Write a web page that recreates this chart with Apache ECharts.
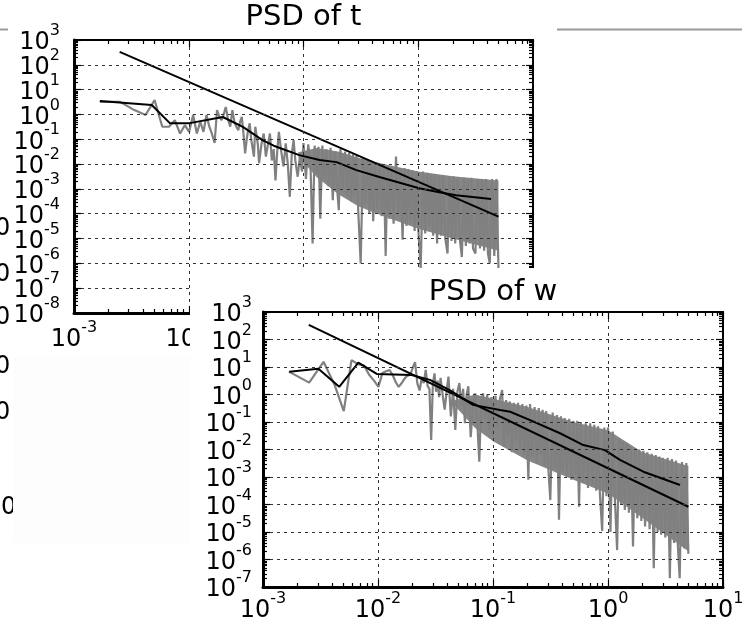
<!DOCTYPE html>
<html><head><meta charset="utf-8">
<script src="https://cdn.jsdelivr.net/npm/echarts@6/dist/echarts.min.js"></script>
<style>
html,body{margin:0;padding:0;background:#fff;overflow:hidden;}
#a{position:absolute;left:0;top:0;width:742px;height:625px;}
#b{position:absolute;left:190px;top:268px;width:552px;height:357px;background:#fff;}
</style></head><body>
<div id="a"></div><div id="b"></div>
<script>
// ---- data ----
const titleT = 'PSD of t';
const titleW = 'PSD of w';

// frequencies shared by both raw spectra
const freq = [
  0.00168, 0.00252, 0.00336, 0.0042, 0.00504, 0.00588, 0.00672, 0.00756, 0.0084, 0.00924,
  0.01008, 0.01092, 0.01176, 0.0126, 0.01344, 0.01428, 0.01512, 0.01596, 0.0168, 0.01764,
  0.01848, 0.01932, 0.02016,
  0.021, 0.022, 0.023, 0.024, 0.025, 0.026, 0.027, 0.028, 0.029, 0.030,
  0.031, 0.032, 0.033, 0.034, 0.035, 0.037, 0.038, 0.040, 0.041, 0.043,
  0.045, 0.047, 0.049, 0.051, 0.053, 0.055, 0.057, 0.059, 0.061, 0.064,
  0.067, 0.070, 0.073, 0.076, 0.079, 0.082, 0.085, 0.089, 0.093, 0.097,
  0.10, 0.105, 0.11, 0.115, 0.12, 0.125, 0.13, 0.135, 0.14, 0.146,
  0.152, 0.158, 0.165, 0.172, 0.18, 0.187, 0.195, 0.203, 0.21, 0.22,
  0.23, 0.24, 0.25, 0.26, 0.27, 0.28, 0.29, 0.30, 0.315, 0.33,
  0.345, 0.36, 0.375, 0.39, 0.405, 0.42, 0.44, 0.46, 0.48, 0.50,
  0.52, 0.54, 0.56, 0.58, 0.61, 0.64, 0.67, 0.70, 0.73, 0.76,
  0.79, 0.82, 0.85, 0.89, 0.93, 0.97, 1.0, 1.05, 1.1, 1.15,
  1.2, 1.25, 1.3, 1.35, 1.4, 1.46, 1.52, 1.58, 1.65, 1.72,
  1.8, 1.87, 1.95, 2.03, 2.1, 2.2, 2.3, 2.4, 2.5, 2.6,
  2.7, 2.8, 2.9, 3.0, 3.15, 3.3, 3.45, 3.6, 3.75, 3.9,
  4.05, 4.2, 4.4, 4.6, 4.8, 5.0
];

// raw PSD of t (grey)
const psdT = [
  3.2, 3.2, 1.5, 0.95, 3.8, 0.32, 0.32, 0.59, 0.17, 0.37,
  0.2, 0.95, 0.17, 0.51, 0.2, 0.95, 0.32, 0.16, 0.072, 1.5,
  0.8, 0.59, 1.0,
  2.0, 0.63, 0.32, 1.5, 0.5, 0.32, 0.23, 0.5, 0.8, 0.16,
  0.027, 0.1, 0.25, 0.44, 0.1, 0.02, 0.32, 0.063, 0.011, 0.063,
  0.17, 0.02, 0.063, 0.17, 0.014, 0.04, 0.0022, 0.032, 0.2, 0.032,
  0.008, 0.068, 0.01, 4.8e-4, 0.025, 0.093, 0.013, 0.0031, 0.02, 0.005,
  0.07, 0.0025, 0.063, 0.01, 6.3e-6, 0.056, 0.004, 0.05, 6.3e-5, 0.056,
  0.0025, 0.04, 0.0013, 0.045, 3.5e-4, 0.032, 0.0016, 1.4e-4, 0.04, 0.001,
  0.032, 5e-4, 0.028, 3.2e-4, 0.025, 6.3e-4, 0.022, 1.3e-4, 1e-6, 0.018,
  2.5e-4, 0.016, 1e-4, 0.014, 5e-5, 0.011, 1.6e-4, 0.011, 8e-5, 0.01,
  2e-6, 0.009, 6.3e-5, 0.008, 4e-5, 0.02, 1e-4, 0.007, 9e-6, 0.007,
  3.2e-5, 0.0063, 5e-5, 0.0056, 2e-5, 0.005, 2.5e-5, 6.3e-7, 0.005, 1.6e-5,
  0.0045, 3.2e-5, 0.004, 1.3e-5, 0.004, 6.3e-6, 0.0035, 1.3e-5, 0.0035, 1e-5,
  2.5e-6, 0.0032, 8e-6, 0.0032, 6.3e-6, 0.0028, 1e-5, 1.8e-6, 0.0028, 5e-6,
  0.0025, 6.3e-6, 0.0028, 4e-6, 2.5e-6, 0.0025, 4e-6, 0.0025, 3.2e-6, 0.0025,
  2.5e-6, 1e-6, 0.0025, 2e-6, 0.0025, 6.3e-7
];

// raw PSD of w (grey)
const psdW = [
  6.8, 2.7, 15.5, 2.2, 0.25, 17.8, 12.6, 11.2, 5.1, 3.2,
  1.9, 6, 7, 7.8, 5, 2.8, 1.9, 2.5, 3.5, 4.5,
  5, 6, 10,
  15, 2.5, 1.4, 4, 2.6, 7.8, 2, 1.6, 0.022, 2.5,
  5.9, 1.26, 3.2, 0.8, 4, 0.63, 0.28, 2, 4.5, 0.16,
  1.6, 0.051, 1.26, 2.6, 0.4, 1.6, 0.09, 1, 2, 0.028,
  0.4, 1.1, 0.1, 0.0036, 0.63, 1.1, 0.13, 1, 0.05, 0.8,
  0.032, 0.9, 0.063, 0.7, 1.45, 0.0126, 0.63, 0.025, 0.56, 0.008,
  0.5, 0.02, 0.5, 0.01, 0.45, 0.0063, 0.4, 8e-4, 0.45, 0.005,
  0.35, 0.0032, 0.32, 0.0063, 0.28, 0.0025, 0.25, 0.004, 1.45e-4, 0.22,
  0.002, 0.18, 2.8e-5, 0.16, 0.0016, 0.14, 0.001, 0.13, 8e-4, 0.11,
  0.00126, 0.11, 8.3e-5, 0.1, 6.3e-4, 0.09, 4e-4, 0.09, 5e-4, 0.08,
  3.2e-4, 0.07, 2.5e-4, 1.1e-5, 0.063, 2e-4, 0.063, 1e-5, 0.045, 1.26e-4,
  2.2e-6, 0.025, 1e-4, 0.02, 6.3e-5, 0.016, 5e-5, 0.0126, 3e-6, 0.011,
  3.2e-5, 0.01, 2.5e-5, 0.009, 1.6e-5, 0.008, 1.26e-5, 0.007, 4.8e-7, 0.0063,
  1e-5, 0.0056, 8e-6, 0.005, 6.3e-6, 0.005, 2.1e-7, 0.0045, 4e-6, 0.004,
  3.2e-6, 2.1e-7, 0.0035, 2.5e-6, 0.0032, 1.6e-6
];

// dense core of the raw spectra at high frequency (upper / lower edge of the solid grey band)
const bandFreqT = [0.09, 0.13, 0.2, 0.3, 0.5, 1.0, 2.0, 5.0];
const bandUpT   = [0.03, 0.045, 0.032, 0.018, 0.01, 0.005, 0.0032, 0.0022];
const bandLoT   = [0.02, 0.003, 6.3e-4, 2e-4, 8e-5, 2.5e-5, 1e-5, 3.2e-6];
const bandFreqW = [0.045, 0.07, 0.1, 0.2, 0.5, 1.0, 2.0, 5.0];
const bandUpW   = [0.6, 1.0, 0.7, 0.35, 0.1, 0.05, 0.008, 0.0025];
const bandLoW   = [0.45, 0.06, 0.02, 0.004, 8e-4, 2.5e-4, 3.2e-5, 2e-6];

// smoothed (binned) spectra, black
const smoothFreqT = [0.00168, 0.00476, 0.00684, 0.0102, 0.0198, 0.0296, 0.0439, 0.055, 0.092, 0.138, 0.194, 0.289, 0.458, 1.02, 1.52, 2.14, 4.31];
const smoothT     = [3.47, 2.4, 0.447, 0.447, 0.79, 0.316, 0.093, 0.055, 0.023, 0.0145, 0.012, 0.0057, 0.0030, 0.00107, 0.00074, 0.00056, 0.00039];
const smoothFreqW = [0.00169, 0.00303, 0.0046, 0.00675, 0.00975, 0.0196, 0.0283, 0.042, 0.067, 0.115, 0.141, 0.21, 0.383, 0.61, 0.94, 1.27, 2.03, 4.23];
const smoothW     = [6.7, 8.7, 1.9, 14.4, 5.6, 5.1, 3.4, 1.45, 0.42, 0.275, 0.235, 0.117, 0.039, 0.0145, 0.0095, 0.0042, 0.00156, 0.00051];

// power-law fit lines, black
const fitFreq = [0.0025, 5.0];
const fitT = [330, 7.6e-5];
const fitW = [340, 8.3e-5];

// axis ticks and their labels (10^exp)
const xTicks = [1e-3, 1e-2, 1e-1, 1, 10];
const xTickExp = ['-3', '-2', '-1', '0', '1'];
const yTicksT = [1e-8, 1e-7, 1e-6, 1e-5, 1e-4, 1e-3, 1e-2, 1e-1, 1, 10, 100, 1000];
const yTickExpT = ['-8', '-7', '-6', '-5', '-4', '-3', '-2', '-1', '0', '1', '2', '3'];
const yTicksW = [1e-7, 1e-6, 1e-5, 1e-4, 1e-3, 1e-2, 1e-1, 1, 10, 100, 1000];
const yTickExpW = ['-7', '-6', '-5', '-4', '-3', '-2', '-1', '0', '1', '2', '3'];
const minorMult = [2, 3, 4, 5, 6, 7, 8, 9];

// stray text of the figure behind
const bgLabels = ['0', '0', '0', '0', '0', '0'];

// ---- rendering ----
const FONT = '"DejaVu Sans", "Liberation Sans", sans-serif';
const GREY = '#808080';
const rich = {
  b: {fontFamily: FONT, fontSize: 24, color: '#000', lineHeight: 34, padding: [6, 0, 0, 0]},
  s: {fontFamily: FONT, fontSize: 16, color: '#000', lineHeight: 30, verticalAlign: 'top'}
};
function fmt(ticks, exps) {
  return function (v) {
    let i = -1;
    for (let k = 0; k < ticks.length; k++) if (Math.abs(ticks[k] - v) <= ticks[k] * 1e-6) i = k;
    return i < 0 ? '' : '{b|10}{s|' + exps[i] + '}';
  };
}
function minors(ticks) {
  const out = [];
  for (let k = 0; k < ticks.length - 1; k++) minorMult.forEach(m => out.push(ticks[k] * m));
  return out;
}
function every2(arr, start) { return arr.filter((v, i) => i % 2 === start); }
function zip(a, b) { return a.map((v, i) => [v, b[i]]); }

function axis(pos, range, ticks, tickLen, lineWidth, extra) {
  const a = {
    type: 'log', logBase: 10, gridIndex: 0, position: pos, min: range[0], max: range[1], z: 3,
    axisLine: {show: lineWidth > 0, onZero: false, lineStyle: {color: '#000', width: lineWidth || 1}},
    axisTick: {show: tickLen > 0, inside: true, length: tickLen || 1, customValues: ticks, lineStyle: {color: '#000', width: 1.2}},
    axisLabel: {show: false}, splitLine: {show: false},
    minorTick: {show: false}, minorSplitLine: {show: false}, axisPointer: {show: false}
  };
  return Object.assign(a, extra || {});
}
function labels(ticks, allTicks, allExp, margin) {
  return {show: true, customValues: ticks, formatter: fmt(allTicks, allExp), rich: rich,
    margin: margin, showMinLabel: true, showMaxLabel: true, hideOverlap: false};
}
const gridLine = {show: true, lineStyle: {color: '#333', width: 1, type: [3, 4]}};

function plotOption(grid, yRange, yTicks, yExp, xMargin, yMargin, series, graphic) {
  const xRange = [1e-3, 10];
  const xm = minors(xTicks), ym = minors(yTicks);
  return {
    animation: false,
    backgroundColor: '#fff',
    grid: Object.assign({containLabel: false, outerBoundsMode: 'none'}, grid),
    xAxis: [
      axis('bottom', xRange, xTicks, 7, 3, {
        splitNumber: 4,
        axisLabel: labels(xTicks, xTicks, xTickExp, xMargin),
        splitLine: gridLine
      }),
      axis('bottom', xRange, xm, 4, 0),
      axis('top', xRange, xTicks, 7, 2),
      axis('top', xRange, xm, 4, 0)
    ],
    yAxis: [
      axis('left', yRange, yTicks, 7, 3, {
        splitNumber: yTicks.length - 1,
        axisLabel: labels(every2(yTicks, 0), yTicks, yExp, yMargin),
        splitLine: gridLine
      }),
      axis('left', yRange, ym, 4, 0),
      axis('right', yRange, yTicks, 7, 2),
      axis('right', yRange, ym, 4, 0),
      axis('left', yRange, yTicks, 0, 0, {axisLabel: labels(every2(yTicks, 1), yTicks, yExp, yMargin)})
    ],
    series: series,
    graphic: graphic
  };
}
function lineSeries(data, color, width, z) {
  return {type: 'line', xAxisIndex: 0, yAxisIndex: 0, data: data, symbol: 'none', showSymbol: false,
    lineStyle: {color: color, width: width}, itemStyle: {color: color}, z: z, clip: true, silent: true};
}
function bandSeries(bf, up, lo) {
  return {
    type: 'custom', xAxisIndex: 0, yAxisIndex: 0, z: 2, silent: true, clip: true,
    data: [[bf[0], up[0]]],
    renderItem: function (params, api) {
      const pts = [];
      for (let i = 0; i < bf.length; i++) pts.push(api.coord([bf[i], up[i]]));
      for (let i = bf.length - 1; i >= 0; i--) pts.push(api.coord([bf[i], lo[i]]));
      return {type: 'polygon', shape: {points: pts}, style: {fill: '#868686', stroke: null}};
    }
  };
}

const chartA = echarts.init(document.getElementById('a'), null, {renderer: 'canvas'});
const gA = [
  {type: 'line', z: 1, shape: {x1: 557, y1: 29.5, x2: 742, y2: 29.5}, style: {stroke: '#9a9a9a', lineWidth: 2}},
  {type: 'line', z: 1, shape: {x1: 0, y1: 29.5, x2: 8, y2: 29.5}, style: {stroke: '#9a9a9a', lineWidth: 2}}
];
const zeroPos = [[-5, 229], [-5, 275], [-5, 318], [-5, 367], [-5, 413], [1, 508]];
bgLabels.forEach((t, i) => gA.push({type: 'text', z: 1, x: zeroPos[i][0], y: zeroPos[i][1],
  style: {text: t, font: '24px ' + FONT, fill: '#000', align: 'left', textAlign: 'left', verticalAlign: 'middle', textVerticalAlign: 'middle'}}));
gA.push({type: 'rect', z: 2, shape: {x: 13, y: 357, width: 177, height: 186}, style: {fill: '#fdfdfd'}});
gA.push({type: 'text', z: 5, x: 303.5, y: 17.5,
  style: {text: titleT, font: '29px ' + FONT, fill: '#000', align: 'center', textAlign: 'center', verticalAlign: 'middle', textVerticalAlign: 'middle'}});

chartA.setOption(plotOption(
  {left: 74, top: 40, width: 459, height: 273},
  [1e-8, 1e3], yTicksT, yTickExpT, 7, 14,
  [
    bandSeries(bandFreqT, bandUpT, bandLoT),
    lineSeries(zip(freq, psdT), GREY, 2.2, 2),
    lineSeries(zip(smoothFreqT, smoothT), '#000', 2, 2),
    lineSeries(zip(fitFreq, fitT), '#000', 2, 2)
  ],
  gA
));

const chartB = echarts.init(document.getElementById('b'), null, {renderer: 'canvas'});
chartB.setOption(plotOption(
  {left: 73, top: 44, width: 460, height: 275},
  [1e-7, 1e3], yTicksW, yTickExpW, 4, 11,
  [
    bandSeries(bandFreqW, bandUpW, bandLoW),
    lineSeries(zip(freq, psdW), GREY, 2.2, 2),
    lineSeries(zip(smoothFreqW, smoothW), '#000', 2, 2),
    lineSeries(zip(fitFreq, fitW), '#000', 2, 2)
  ],
  [{type: 'text', z: 5, x: 303, y: 24.5,
    style: {text: titleW, font: '29px ' + FONT, fill: '#000', align: 'center', textAlign: 'center', verticalAlign: 'middle', textVerticalAlign: 'middle'}}]
));
</script>
</body></html>
